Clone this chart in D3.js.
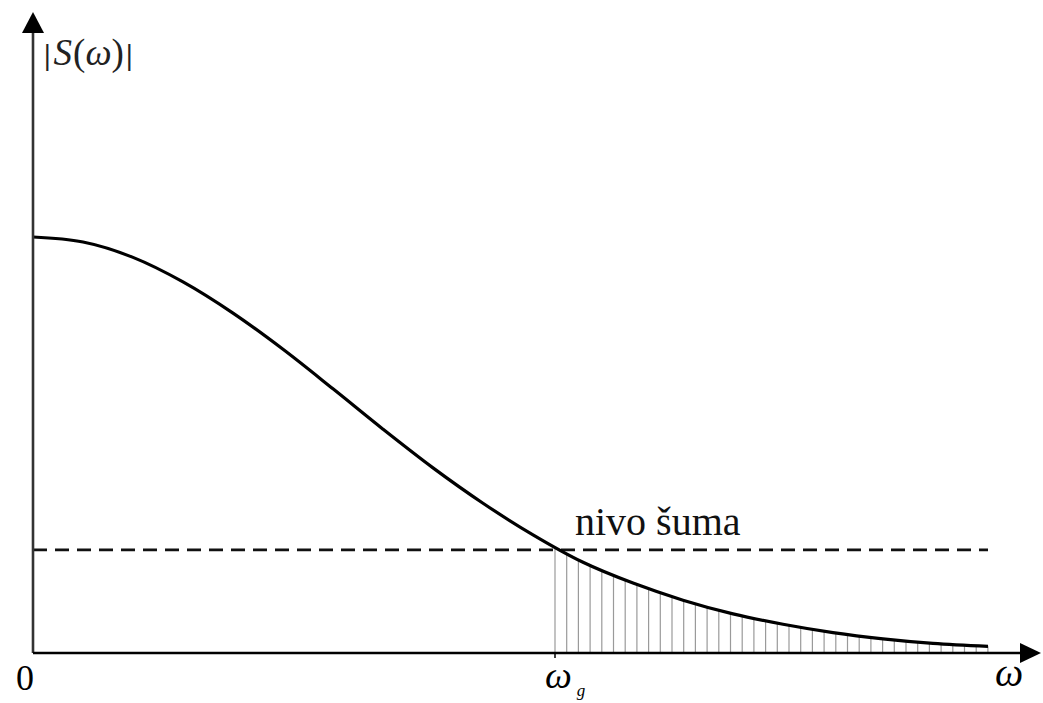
<!DOCTYPE html>
<html>
<head>
<meta charset="utf-8">
<script src="https://cdn.jsdelivr.net/npm/d3@7"></script>
<style>
  html, body { margin: 0; padding: 0; background: #fff; }
  svg text { font-family: "Liberation Serif", "DejaVu Serif", serif; }
</style>
</head>
<body>
<svg id="chart" width="1043" height="703"></svg>
<script>
// ---- data ----
const omega = [0, 0.5, 1.0, 1.5, 2.0, 2.5, 3.0, 3.5, 4.0, 4.5, 5.0, 5.5, 6.0, 6.5, 7.0, 7.5, 8.0, 8.5, 9.0, 9.55];
const magnitude = [1.000, 0.988, 0.951, 0.892, 0.817, 0.730, 0.635, 0.538, 0.445, 0.360, 0.284, 0.218, 0.168, 0.127, 0.094, 0.069, 0.049, 0.034, 0.023, 0.016];
const noiseLevel = 0.248;
const omegaG = 5.22;
const hatchStep = 0.117;
const labels = { xAxis: "ω", origin: "0", cutoff: "ω", cutoffSub: "g", noise: "nivo šuma" };

// ---- scales ----
const svg = d3.select("#chart");
const x = d3.scaleLinear().domain([0, 10]).range([33, 1033]);
const y = d3.scaleLinear().domain([0, 1]).range([653, 237]);
const pts = omega.map((w, i) => ({ w, m: magnitude[i] }));

const line = d3.line().x(d => x(d.w)).y(d => y(d.m)).curve(d3.curveMonotoneX);

// ---- curve path (drawn first invisibly to sample heights for hatching) ----
const curvePath = svg.append("path").datum(pts)
  .attr("d", line)
  .attr("fill", "none").attr("stroke", "#000").attr("stroke-width", 3.2);
const node = curvePath.node();
const L = node.getTotalLength();
const yAtX = px => {
  let lo = 0, hi = L;
  for (let k = 0; k < 40; k++) {
    const mid = (lo + hi) / 2;
    if (node.getPointAtLength(mid).x < px) lo = mid; else hi = mid;
  }
  return node.getPointAtLength(lo).y;
};

// ---- hatching under the curve beyond omega_g ----
const hatch = d3.range(omegaG, omega[omega.length - 1] + 1e-9, hatchStep);
svg.insert("g", "path").selectAll("line").data(hatch).join("line")
  .attr("x1", d => x(d)).attr("x2", d => x(d))
  .attr("y1", y(0)).attr("y2", d => yAtX(x(d)))
  .attr("stroke", "#9a9a9a").attr("stroke-width", 1.2);

// ---- noise level dashed line ----
svg.insert("line", "path")
  .attr("x1", x(0)).attr("x2", x(omega[omega.length - 1]))
  .attr("y1", y(noiseLevel)).attr("y2", y(noiseLevel))
  .attr("stroke", "#111").attr("stroke-width", 2.6)
  .attr("stroke-dasharray", "14,8");

// ---- axes with arrows ----
svg.append("line").attr("x1", x(0)).attr("x2", x(0)).attr("y1", y(0)).attr("y2", 28)
  .attr("stroke", "#333").attr("stroke-width", 2.6);
svg.append("line").attr("x1", x(0)).attr("x2", 1024).attr("y1", y(0)).attr("y2", y(0))
  .attr("stroke", "#000").attr("stroke-width", 2.6);
svg.append("path")
  .attr("d", `M${x(0)},12 L${x(0) - 11},33 L${x(0) + 11},33 Z`).attr("fill", "#000");
svg.append("path")
  .attr("d", `M1041,${y(0)} L1020,${y(0) - 10} L1020,${y(0) + 10} Z`).attr("fill", "#000");
svg.append("line").attr("x1", x(omegaG)).attr("x2", x(omegaG)).attr("y1", y(0)).attr("y2", y(0) + 5)
  .attr("stroke", "#000").attr("stroke-width", 1.5);

// ---- labels ----
const yl = svg.append("text").attr("x", 44).attr("y", 65).attr("font-size", 37).attr("fill", "#222");
yl.append("tspan").text("|").attr("font-size", 30).attr("font-weight", "bold");
yl.append("tspan").text("S").attr("font-style", "italic").attr("dx", 3);
yl.append("tspan").text("(").attr("dx", 1);
yl.append("tspan").text("ω").attr("font-style", "italic");
yl.append("tspan").text(")");
yl.append("tspan").text("|").attr("font-size", 30).attr("font-weight", "bold").attr("dx", 2);

svg.append("text").attr("x", 25).attr("y", 690).attr("text-anchor", "middle")
  .attr("font-size", 36).text(labels.origin);

svg.append("text").attr("x", 1009).attr("y", 686).attr("text-anchor", "middle")
  .attr("font-size", 40).attr("font-style", "italic").text(labels.xAxis);

const wg = svg.append("text").attr("x", 545).attr("y", 688)
  .attr("font-size", 38).attr("font-style", "italic");
wg.append("tspan").text(labels.cutoff);
wg.append("tspan").text(labels.cutoffSub).attr("font-size", 17).attr("dx", 5).attr("dy", 8);

svg.append("text").attr("x", 575).attr("y", 535)
  .attr("font-size", 40).attr("fill", "#111").text(labels.noise);
</script>
</body>
</html>
